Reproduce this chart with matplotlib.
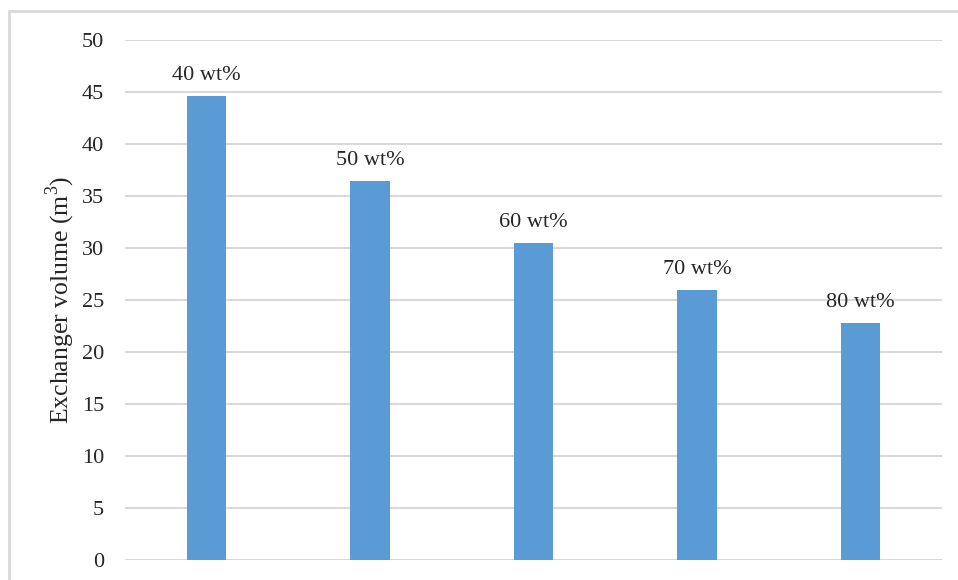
import matplotlib
matplotlib.use("Agg")
import matplotlib.pyplot as plt
from matplotlib.patches import Rectangle

# Exchanger volume for each solution concentration
concentrations = ["40 wt%", "50 wt%", "60 wt%", "70 wt%", "80 wt%"]
volumes = [44.6, 36.4, 30.5, 26.0, 22.8]
y_ticks = [0, 5, 10, 15, 20, 25, 30, 35, 40, 45, 50]

plt.rcParams["font.family"] = ["Liberation Serif", "DejaVu Serif"]
plt.rcParams["mathtext.fontset"] = "custom"
plt.rcParams["mathtext.rm"] = "Liberation Serif"

W, H = 958, 580
fig = plt.figure(figsize=(W / 100, H / 100), dpi=100)
ax = fig.add_axes([125 / W, (H - 560) / H, (942 - 125) / W, (560 - 40) / H])

bar_color = "#5b9bd5"
grid_color = "#d9d9d9"

x = list(range(len(concentrations)))
bars = ax.bar(x, volumes, width=0.24, color=bar_color, zorder=3)

for xi, v, lab in zip(x, volumes, concentrations):
    ax.annotate(lab, xy=(xi, v), xytext=(0, 11.5), textcoords="offset points",
                ha="center", va="baseline", fontsize=16, color="#262626", zorder=4)

ax.set_xlim(-0.5, len(concentrations) - 0.5)
ax.set_ylim(0, 50)
ax.set_yticks(y_ticks)
ax.set_xticks([])
ax.tick_params(axis="y", length=0, pad=15, labelsize=16, labelcolor="#262626")
ax.yaxis.grid(True, color=grid_color, linewidth=1.5, zorder=0)
for s in ax.spines.values():
    s.set_visible(False)

ax.set_ylabel("Exchanger volume (m$^\\mathrm{3}$)", fontsize=18.5, color="#262626")
ax.yaxis.set_label_coords(-(125 - 77) / (942 - 125), 0.5)

# Light outline around the chart area
fig.patches.append(Rectangle((9 / W, -0.1), 1.2, (H - 11) / H + 0.1,
                             transform=fig.transFigure, fill=False,
                             edgecolor=grid_color, linewidth=2, clip_on=False))

fig.savefig("out.png", dpi=100)
